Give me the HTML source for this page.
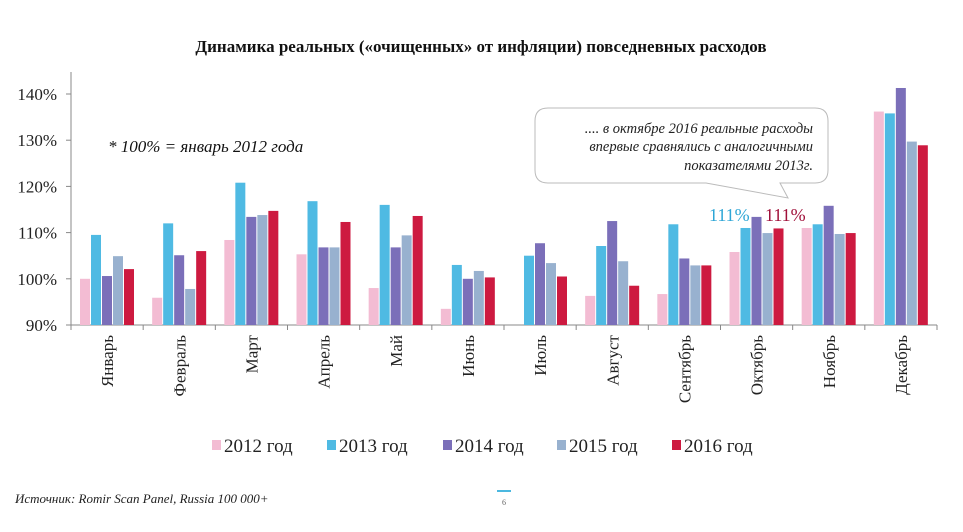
<!DOCTYPE html>
<html><head><meta charset="utf-8"><style>
body{margin:0;background:#fff;width:963px;height:527px;overflow:hidden;font-family:"Liberation Serif",serif}
</style></head><body>
<svg width="963" height="527" id="c" font-family="Liberation Serif, serif">
<text x="481" y="52" text-anchor="middle" font-size="17" font-weight="bold" fill="#111">Динамика реальных («очищенных» от инфляции) повседневных расходов</text>
<text x="108" y="152" font-size="17" font-style="italic" fill="#111">* 100% = январь 2012 года</text>
<path d="M548,108 H815 Q828,108 828,121 V170 Q828,183 815,183 H780 L788,198 L706,183 H548 Q535,183 535,170 V121 Q535,108 548,108 Z" fill="#fff" stroke="#bbb"/>
<g font-size="14.5" font-style="italic" fill="#222" text-anchor="end">
<text x="813" y="133">.... в октябре 2016 реальные расходы</text>
<text x="813" y="151">впервые сравнялись с аналогичными</text>
<text x="813" y="170">показателями 2013г.</text>
</g>
<text x="709" y="221" font-size="18" fill="#2ea6d6">111%</text>
<text x="765" y="221" font-size="18" fill="#a0103a">111%</text>
<g id="axes"></g><g id="bars"></g><g id="legend"></g>
<text x="15" y="503" font-size="13" font-style="italic" fill="#222">Источник: Romir Scan Panel, Russia 100 000+</text>
<rect x="497" y="490" width="14" height="2" fill="#4bb8e0"/>
<text x="504" y="505" font-size="8" fill="#666" text-anchor="middle">6</text>
</svg>
<script>
const months=["Январь","Февраль","Март","Апрель","Май","Июнь","Июль","Август","Сентябрь","Октябрь","Ноябрь","Декабрь"];
const seriesNames=["2012 год","2013 год","2014 год","2015 год","2016 год"];
const colors=["#f3bcd3","#4fbae3","#7b6fb9","#98b1cf","#cd1a40"];
const s2012=[100,95.9,108.4,105.3,98,93.5,null,96.3,96.7,105.8,111,136.2];
const s2013=[109.5,112,120.8,116.8,116,103,105,107.1,111.8,111,111.8,135.8];
const s2014=[100.6,105.1,113.4,106.8,106.8,100,107.7,112.5,104.4,113.4,115.8,141.3];
const s2015=[104.9,97.8,113.8,106.8,109.4,101.7,103.4,103.8,102.9,109.9,109.7,129.7];
const s2016=[102.1,106,114.7,112.3,113.6,100.3,100.5,98.5,102.9,110.9,109.9,128.9];
const ticks=[90,100,110,120,130,140];
const series=[s2012,s2013,s2014,s2015,s2016];
const NS="http://www.w3.org/2000/svg";
const X0=71,X1=937,Y0=325,YT=94,vmin=90,vmax=140;
const gw=(X1-X0)/months.length;
const y=v=>Y0-(v-vmin)/(vmax-vmin)*(Y0-YT);
function mk(t,a,p){const e=document.createElementNS(NS,t);for(const k in a)e.setAttribute(k,a[k]);p.appendChild(e);return e;}
const ax=document.getElementById('axes');
const yl=mk('line',{x1:X0,y1:72,x2:X0,y2:Y0,stroke:'#888'},ax);


const xl=mk('line',{x1:X0,y1:Y0,x2:X1,y2:Y0,stroke:'#888'},ax);


ticks.forEach(t=>{
 mk('line',{x1:X0-5,y1:y(t),x2:X0,y2:y(t),stroke:'#888'},ax);
 const tx=mk('text',{x:57,y:y(t)+6,'text-anchor':'end','font-size':17,fill:'#222'},ax);
 tx.textContent=t+'%';
 
 
});
for(let i=0;i<=months.length;i++){mk('line',{x1:X0+i*gw,y1:Y0,x2:X0+i*gw,y2:Y0+5,stroke:'#888'},ax);}
months.forEach((m,i)=>{
 const cx=X0+(i+0.5)*gw+6;
 const tx=mk('text',{x:cx,y:Y0+10,'text-anchor':'end','font-size':17,fill:'#222',transform:`rotate(-90 ${cx} ${Y0+10})`},ax);
 tx.textContent=m;
 
 
});
const bg=document.getElementById('bars');
series.forEach((s,si)=>{s.forEach((v,i)=>{
 if(v==null)return;
 const r=mk('rect',{x:X0+i*gw+9+si*11,y:y(v),width:10,height:Y0-y(v),fill:colors[si]},bg);
 
 
});});
const lg=document.getElementById('legend');
const lx=[212,327,443,557,672];
seriesNames.forEach((n,i)=>{
 const g=mk('g',{},lg);
 
 
 mk('rect',{x:lx[i],y:440,width:9,height:10,fill:colors[i]},g);
 const t=mk('text',{x:lx[i]+12,y:452,'font-size':19,fill:'#222'},g);
 t.textContent=n;
});
</script>
</body></html>
